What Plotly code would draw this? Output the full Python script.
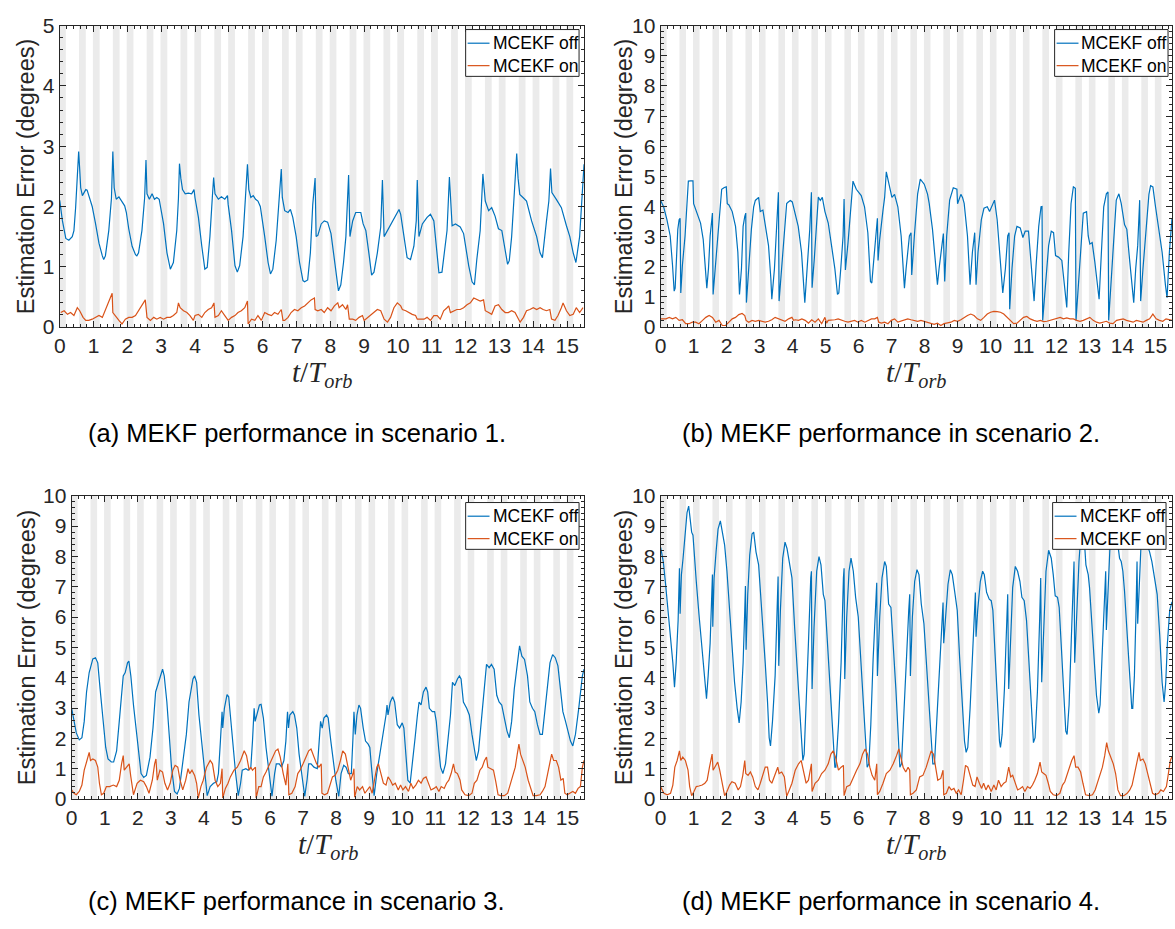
import plotly.graph_objects as go

W, H = 1175, 929
BLUE = '#0072BD'
ORANGE = '#D95319'
INK = '#262626'
BAND = '#ebebeb'

# ---------------- data (t / T_orb, error in degrees) ----------------
a_off = [(0.0, 2.10), (0.08, 1.76), (0.18, 1.47), (0.27, 1.44), (0.37, 1.50), (0.42, 1.60), (0.47, 1.98), (0.53, 2.63), (0.56, 2.91), (0.59, 2.62), (0.62, 2.31), (0.67, 2.18), (0.72, 2.23), (0.77, 2.28), (0.81, 2.27), (0.86, 2.18), (0.91, 2.07), (0.96, 2.00), (1.06, 1.71), (1.16, 1.39), (1.26, 1.18), (1.30, 1.12), (1.35, 1.18), (1.45, 1.60), (1.53, 2.14), (1.57, 2.91), (1.61, 2.31), (1.67, 2.12), (1.75, 2.16), (1.84, 2.09), (1.92, 2.01), (1.97, 1.90), (2.04, 1.63), (2.14, 1.34), (2.24, 1.20), (2.28, 1.18), (2.33, 1.23), (2.43, 1.60), (2.51, 2.14), (2.55, 2.77), (2.58, 2.21), (2.65, 2.12), (2.73, 2.21), (2.80, 2.12), (2.87, 2.15), (2.94, 2.12), (2.97, 2.03), (3.07, 1.71), (3.17, 1.23), (3.27, 0.96), (3.36, 1.07), (3.46, 1.60), (3.51, 2.14), (3.54, 2.71), (3.58, 2.47), (3.63, 2.28), (3.71, 2.21), (3.80, 2.22), (3.90, 2.21), (3.97, 2.28), (4.00, 2.14), (4.10, 1.82), (4.20, 1.34), (4.29, 0.96), (4.36, 0.99), (4.44, 1.50), (4.51, 2.14), (4.55, 2.48), (4.59, 2.21), (4.69, 2.12), (4.78, 2.16), (4.88, 2.12), (4.96, 2.18), (4.98, 2.03), (5.08, 1.60), (5.18, 1.02), (5.25, 0.91), (5.32, 1.02), (5.42, 1.50), (5.49, 2.14), (5.55, 2.70), (5.59, 2.28), (5.65, 2.15), (5.72, 2.18), (5.79, 2.12), (5.86, 2.09), (5.93, 2.00), (6.06, 1.50), (6.16, 1.07), (6.23, 0.88), (6.30, 0.96), (6.40, 1.44), (6.50, 2.14), (6.55, 2.62), (6.58, 2.15), (6.65, 1.93), (6.75, 1.90), (6.82, 1.95), (6.89, 1.82), (6.99, 1.50), (7.09, 1.07), (7.19, 0.77), (7.24, 0.75), (7.33, 0.78), (7.41, 1.23), (7.48, 2.03), (7.55, 2.47), (7.58, 1.50), (7.63, 1.52), (7.73, 1.71), (7.82, 1.76), (7.92, 1.74), (8.02, 1.55), (8.12, 1.07), (8.20, 0.70), (8.24, 0.60), (8.31, 0.70), (8.39, 1.07), (8.46, 1.50), (8.51, 2.03), (8.54, 2.52), (8.58, 1.50), (8.66, 1.76), (8.75, 1.90), (8.90, 1.90), (8.97, 1.71), (9.05, 1.60), (9.15, 1.18), (9.22, 0.86), (9.29, 0.91), (9.39, 1.23), (9.49, 1.66), (9.54, 2.44), (9.59, 1.50), (9.69, 1.60), (9.83, 1.76), (10.03, 1.95), (10.08, 1.87), (10.18, 1.50), (10.27, 1.15), (10.37, 1.12), (10.47, 1.34), (10.54, 1.76), (10.57, 2.44), (10.62, 1.50), (10.72, 1.71), (10.86, 1.82), (10.96, 1.87), (11.06, 1.76), (11.16, 1.18), (11.21, 0.90), (11.30, 0.91), (11.45, 1.60), (11.52, 2.49), (11.60, 1.68), (11.70, 1.71), (11.84, 1.66), (11.94, 1.55), (12.09, 1.02), (12.19, 0.75), (12.26, 0.70), (12.33, 1.12), (12.43, 1.60), (12.51, 2.54), (12.58, 2.09), (12.68, 1.93), (12.77, 1.98), (12.87, 1.84), (12.97, 1.63), (13.07, 1.60), (13.17, 1.28), (13.24, 1.04), (13.29, 1.10), (13.36, 1.50), (13.43, 2.14), (13.51, 2.88), (13.55, 2.47), (13.60, 2.20), (13.71, 2.14), (13.80, 2.09), (13.95, 1.76), (14.10, 1.50), (14.20, 1.23), (14.27, 1.15), (14.39, 1.76), (14.46, 2.09), (14.51, 2.63), (14.55, 2.23), (14.69, 2.11), (14.83, 1.98), (14.98, 1.68), (15.08, 1.50), (15.18, 1.23), (15.26, 1.07), (15.37, 1.50), (15.44, 2.09), (15.50, 2.70)]

a_on = [(0.03, 0.24), (0.13, 0.27), (0.23, 0.21), (0.32, 0.24), (0.42, 0.19), (0.52, 0.32), (0.59, 0.27), (0.69, 0.16), (0.77, 0.11), (0.86, 0.11), (0.96, 0.13), (1.06, 0.16), (1.16, 0.19), (1.26, 0.16), (1.35, 0.29), (1.45, 0.40), (1.55, 0.56), (1.57, 0.24), (1.65, 0.19), (1.75, 0.11), (1.84, 0.05), (1.94, 0.13), (2.04, 0.16), (2.14, 0.16), (2.24, 0.19), (2.33, 0.27), (2.43, 0.37), (2.53, 0.45), (2.58, 0.16), (2.68, 0.11), (2.78, 0.16), (2.87, 0.13), (2.97, 0.16), (3.07, 0.13), (3.17, 0.16), (3.27, 0.16), (3.36, 0.19), (3.46, 0.24), (3.51, 0.40), (3.56, 0.32), (3.66, 0.27), (3.76, 0.24), (3.85, 0.19), (3.95, 0.11), (4.00, 0.19), (4.10, 0.21), (4.20, 0.16), (4.29, 0.24), (4.39, 0.29), (4.49, 0.32), (4.56, 0.40), (4.59, 0.16), (4.69, 0.19), (4.78, 0.27), (4.88, 0.19), (4.98, 0.11), (5.08, 0.16), (5.18, 0.19), (5.27, 0.24), (5.37, 0.27), (5.47, 0.32), (5.55, 0.43), (5.57, 0.05), (5.67, 0.13), (5.77, 0.11), (5.86, 0.19), (5.96, 0.11), (6.06, 0.24), (6.16, 0.21), (6.26, 0.19), (6.35, 0.24), (6.45, 0.21), (6.55, 0.29), (6.60, 0.11), (6.65, 0.11), (6.75, 0.16), (6.84, 0.24), (6.94, 0.29), (7.04, 0.27), (7.14, 0.32), (7.24, 0.35), (7.33, 0.40), (7.43, 0.45), (7.53, 0.48), (7.55, 0.29), (7.63, 0.27), (7.73, 0.29), (7.82, 0.24), (7.92, 0.32), (8.02, 0.27), (8.12, 0.35), (8.22, 0.40), (8.26, 0.32), (8.36, 0.37), (8.46, 0.29), (8.51, 0.37), (8.56, 0.13), (8.66, 0.13), (8.75, 0.11), (8.85, 0.16), (8.95, 0.19), (9.00, 0.11), (9.10, 0.16), (9.20, 0.21), (9.29, 0.24), (9.39, 0.29), (9.49, 0.27), (9.59, 0.13), (9.69, 0.08), (9.78, 0.16), (9.88, 0.32), (9.98, 0.40), (10.08, 0.35), (10.13, 0.29), (10.23, 0.27), (10.32, 0.24), (10.42, 0.21), (10.52, 0.19), (10.57, 0.13), (10.67, 0.13), (10.77, 0.13), (10.86, 0.16), (10.96, 0.11), (11.06, 0.19), (11.16, 0.19), (11.25, 0.13), (11.35, 0.27), (11.45, 0.32), (11.50, 0.35), (11.55, 0.24), (11.65, 0.27), (11.74, 0.29), (11.84, 0.29), (11.94, 0.32), (12.04, 0.37), (12.14, 0.40), (12.24, 0.48), (12.33, 0.45), (12.43, 0.43), (12.53, 0.45), (12.58, 0.27), (12.68, 0.24), (12.77, 0.21), (12.87, 0.35), (12.97, 0.37), (13.07, 0.29), (13.17, 0.24), (13.26, 0.24), (13.36, 0.27), (13.46, 0.24), (13.56, 0.13), (13.61, 0.08), (13.71, 0.16), (13.80, 0.27), (13.90, 0.29), (14.00, 0.32), (14.10, 0.29), (14.20, 0.32), (14.29, 0.29), (14.39, 0.27), (14.49, 0.29), (14.54, 0.13), (14.64, 0.11), (14.73, 0.19), (14.83, 0.32), (14.88, 0.40), (14.98, 0.27), (15.08, 0.19), (15.18, 0.21), (15.27, 0.32), (15.37, 0.24), (15.47, 0.32)]

b_off = [(0.0, 4.20), (0.02, 4.15), (0.09, 3.99), (0.19, 3.56), (0.29, 3.02), (0.36, 2.05), (0.41, 1.19), (0.44, 1.29), (0.48, 2.48), (0.52, 3.24), (0.56, 3.56), (0.59, 3.61), (0.61, 1.13), (0.66, 2.05), (0.74, 3.02), (0.79, 3.99), (0.84, 4.84), (0.91, 4.85), (0.98, 4.85), (1.00, 4.09), (1.11, 3.78), (1.21, 3.45), (1.29, 2.91), (1.36, 1.94), (1.40, 1.29), (1.45, 1.94), (1.50, 3.02), (1.55, 3.56), (1.57, 3.78), (1.59, 1.08), (1.65, 1.94), (1.72, 3.02), (1.79, 3.88), (1.85, 4.57), (1.93, 4.63), (1.99, 4.65), (2.02, 4.09), (2.07, 4.05), (2.17, 3.83), (2.27, 3.34), (2.34, 2.48), (2.39, 1.08), (2.45, 1.94), (2.50, 3.34), (2.55, 3.67), (2.58, 3.78), (2.60, 0.81), (2.67, 1.94), (2.75, 3.24), (2.82, 3.99), (2.87, 4.20), (2.97, 4.30), (2.99, 3.96), (3.02, 3.83), (3.10, 3.88), (3.17, 3.45), (3.27, 2.70), (3.34, 1.62), (3.37, 0.92), (3.45, 1.94), (3.52, 3.24), (3.57, 4.47), (3.59, 0.86), (3.67, 1.94), (3.75, 3.02), (3.82, 4.10), (3.86, 4.14), (3.93, 4.20), (3.99, 4.15), (4.07, 3.78), (4.17, 3.34), (4.27, 2.48), (4.34, 1.40), (4.37, 0.81), (4.44, 1.94), (4.52, 3.24), (4.57, 4.47), (4.59, 1.30), (4.66, 2.30), (4.73, 3.70), (4.78, 4.31), (4.84, 4.20), (4.90, 4.30), (4.98, 3.83), (5.08, 3.45), (5.18, 2.70), (5.28, 1.94), (5.36, 1.08), (5.40, 1.13), (5.46, 1.94), (5.53, 3.02), (5.56, 4.25), (5.60, 1.89), (5.68, 2.80), (5.78, 3.99), (5.83, 4.84), (5.93, 4.57), (6.03, 4.41), (6.08, 4.36), (6.18, 3.99), (6.28, 3.13), (6.36, 1.51), (6.40, 1.46), (6.48, 2.48), (6.57, 3.61), (6.59, 2.21), (6.64, 2.91), (6.74, 3.88), (6.79, 4.31), (6.84, 5.15), (6.94, 4.62), (7.01, 4.30), (7.09, 4.40), (7.19, 3.99), (7.29, 3.02), (7.39, 1.29), (7.44, 1.94), (7.54, 3.02), (7.59, 3.13), (7.61, 1.73), (7.69, 3.02), (7.79, 4.42), (7.87, 4.91), (7.99, 4.74), (8.09, 4.41), (8.14, 4.10), (8.24, 3.24), (8.34, 2.05), (8.39, 1.40), (8.44, 1.94), (8.54, 2.91), (8.57, 3.10), (8.61, 1.51), (8.67, 3.02), (8.76, 4.21), (8.87, 4.62), (8.98, 4.57), (9.00, 4.09), (9.10, 4.40), (9.15, 4.30), (9.20, 4.10), (9.30, 3.02), (9.38, 1.40), (9.45, 2.48), (9.52, 3.13), (9.56, 1.40), (9.62, 2.48), (9.72, 3.56), (9.80, 3.94), (9.90, 3.99), (9.97, 3.83), (10.05, 4.05), (10.12, 4.21), (10.20, 3.56), (10.30, 2.27), (10.37, 1.13), (10.45, 1.94), (10.52, 3.02), (10.56, 3.13), (10.58, 0.59), (10.65, 1.94), (10.73, 3.02), (10.80, 3.34), (10.90, 3.29), (10.98, 2.97), (11.05, 3.18), (11.15, 3.18), (11.20, 2.48), (11.27, 1.40), (11.32, 0.86), (11.38, 2.05), (11.46, 3.34), (11.53, 3.99), (11.56, 4.00), (11.58, 0.22), (11.66, 1.40), (11.76, 2.70), (11.84, 3.18), (11.91, 3.13), (11.97, 2.37), (12.06, 2.32), (12.16, 2.21), (12.21, 1.73), (12.28, 1.08), (12.31, 0.65), (12.37, 2.48), (12.44, 4.10), (12.51, 4.65), (12.57, 4.60), (12.59, 0.22), (12.66, 1.40), (12.74, 2.70), (12.81, 3.78), (12.91, 3.83), (12.96, 3.02), (13.01, 2.75), (13.08, 2.80), (13.16, 2.16), (13.24, 1.40), (13.29, 0.92), (13.36, 2.48), (13.43, 3.99), (13.51, 4.42), (13.56, 4.48), (13.58, 0.22), (13.66, 1.62), (13.74, 3.02), (13.81, 4.21), (13.89, 4.42), (13.96, 4.10), (14.06, 3.40), (14.13, 3.24), (14.22, 2.16), (14.30, 1.08), (14.34, 0.81), (14.40, 1.94), (14.46, 2.70), (14.52, 4.21), (14.55, 0.86), (14.62, 1.94), (14.72, 3.34), (14.80, 4.40), (14.85, 4.69), (14.92, 4.65), (15.00, 3.99), (15.10, 3.24), (15.20, 2.48), (15.30, 1.40), (15.35, 0.97), (15.42, 2.48), (15.50, 3.61)]

b_on = [(0.0, 0.27), (0.16, 0.27), (0.26, 0.32), (0.36, 0.27), (0.46, 0.32), (0.56, 0.22), (0.66, 0.24), (0.76, 0.11), (0.86, 0.11), (0.96, 0.16), (1.06, 0.16), (1.16, 0.11), (1.27, 0.22), (1.37, 0.32), (1.47, 0.38), (1.57, 0.32), (1.67, 0.16), (1.77, 0.22), (1.87, 0.05), (1.97, 0.05), (2.07, 0.16), (2.17, 0.27), (2.27, 0.32), (2.37, 0.41), (2.47, 0.45), (2.55, 0.38), (2.59, 0.22), (2.67, 0.16), (2.77, 0.22), (2.87, 0.19), (2.97, 0.22), (3.07, 0.19), (3.17, 0.16), (3.27, 0.19), (3.37, 0.24), (3.47, 0.32), (3.57, 0.27), (3.67, 0.24), (3.77, 0.19), (3.88, 0.27), (3.98, 0.32), (4.03, 0.22), (4.08, 0.24), (4.18, 0.22), (4.28, 0.27), (4.38, 0.22), (4.48, 0.13), (4.58, 0.24), (4.68, 0.16), (4.78, 0.27), (4.88, 0.11), (4.98, 0.32), (5.03, 0.13), (5.08, 0.22), (5.18, 0.22), (5.28, 0.24), (5.38, 0.27), (5.48, 0.22), (5.58, 0.19), (5.68, 0.16), (5.78, 0.19), (5.88, 0.22), (5.98, 0.16), (6.08, 0.22), (6.19, 0.16), (6.29, 0.22), (6.39, 0.27), (6.49, 0.27), (6.57, 0.32), (6.61, 0.16), (6.69, 0.13), (6.79, 0.16), (6.89, 0.11), (6.99, 0.22), (7.09, 0.27), (7.19, 0.16), (7.29, 0.19), (7.39, 0.22), (7.49, 0.27), (7.59, 0.24), (7.69, 0.22), (7.79, 0.19), (7.89, 0.22), (7.99, 0.19), (8.09, 0.16), (8.19, 0.11), (8.29, 0.09), (8.39, 0.13), (8.49, 0.05), (8.59, 0.11), (8.70, 0.13), (8.80, 0.16), (8.90, 0.22), (9.00, 0.19), (9.10, 0.24), (9.20, 0.32), (9.30, 0.38), (9.40, 0.43), (9.50, 0.38), (9.60, 0.27), (9.70, 0.22), (9.80, 0.32), (9.90, 0.43), (10.00, 0.49), (10.10, 0.52), (10.20, 0.51), (10.30, 0.49), (10.40, 0.43), (10.50, 0.32), (10.60, 0.19), (10.70, 0.11), (10.80, 0.13), (10.90, 0.22), (11.00, 0.32), (11.10, 0.35), (11.20, 0.27), (11.31, 0.22), (11.41, 0.19), (11.51, 0.22), (11.61, 0.18), (11.71, 0.19), (11.81, 0.22), (11.91, 0.24), (12.01, 0.27), (12.11, 0.32), (12.21, 0.27), (12.31, 0.30), (12.41, 0.27), (12.51, 0.27), (12.61, 0.22), (12.71, 0.19), (12.81, 0.22), (12.91, 0.27), (13.01, 0.32), (13.11, 0.22), (13.21, 0.16), (13.31, 0.13), (13.41, 0.16), (13.51, 0.19), (13.61, 0.13), (13.71, 0.11), (13.82, 0.22), (13.92, 0.24), (14.02, 0.27), (14.12, 0.22), (14.22, 0.19), (14.32, 0.16), (14.42, 0.22), (14.52, 0.19), (14.62, 0.16), (14.72, 0.22), (14.82, 0.27), (14.92, 0.43), (15.02, 0.27), (15.12, 0.22), (15.22, 0.19), (15.32, 0.27), (15.42, 0.24), (15.50, 0.22)]

c_off = [(0.00, 2.99), (0.07, 2.56), (0.14, 2.18), (0.23, 1.95), (0.31, 2.02), (0.38, 2.56), (0.45, 3.53), (0.53, 4.17), (0.64, 4.62), (0.72, 4.66), (0.79, 4.49), (0.86, 3.63), (0.95, 2.67), (1.03, 1.70), (1.10, 1.32), (1.20, 1.22), (1.27, 1.22), (1.36, 1.59), (1.44, 2.56), (1.51, 3.63), (1.56, 4.06), (1.62, 4.17), (1.69, 4.49), (1.73, 4.55), (1.79, 4.06), (1.87, 3.10), (1.95, 2.34), (2.03, 1.38), (2.10, 0.84), (2.18, 0.71), (2.26, 0.78), (2.37, 1.38), (2.46, 2.34), (2.54, 3.53), (2.62, 3.85), (2.70, 4.12), (2.75, 4.28), (2.80, 4.06), (2.88, 3.20), (2.95, 2.13), (3.02, 1.05), (3.11, 0.25), (3.19, 0.17), (3.26, 0.35), (3.36, 1.16), (3.47, 2.13), (3.55, 3.20), (3.62, 3.63), (3.67, 3.96), (3.72, 4.06), (3.78, 3.85), (3.85, 2.77), (3.93, 1.91), (4.01, 0.84), (4.10, 0.11), (4.19, 0.41), (4.29, 0.52), (4.39, 0.57), (4.44, 0.84), (4.50, 1.91), (4.55, 2.88), (4.57, 2.34), (4.62, 2.99), (4.70, 3.44), (4.75, 3.37), (4.80, 2.77), (4.88, 1.70), (4.96, 0.84), (5.04, 0.11), (5.11, 0.52), (5.16, 0.95), (5.27, 1.00), (5.34, 0.95), (5.42, 1.05), (5.47, 1.91), (5.52, 2.99), (5.55, 2.56), (5.60, 2.77), (5.68, 3.10), (5.73, 3.12), (5.80, 2.67), (5.88, 1.70), (5.99, 0.62), (6.06, 0.09), (6.14, 0.84), (6.19, 1.16), (6.28, 1.16), (6.35, 1.05), (6.42, 1.27), (6.48, 1.91), (6.53, 2.88), (6.56, 2.34), (6.60, 2.77), (6.69, 2.88), (6.74, 2.77), (6.81, 2.34), (6.88, 1.48), (6.96, 0.84), (7.05, 0.09), (7.12, 0.62), (7.17, 1.16), (7.24, 1.16), (7.33, 1.05), (7.43, 1.00), (7.48, 1.70), (7.53, 2.56), (7.58, 2.34), (7.63, 2.67), (7.71, 2.77), (7.76, 2.67), (7.84, 1.91), (7.92, 1.27), (7.99, 0.62), (8.08, 0.09), (8.15, 0.84), (8.23, 1.11), (8.30, 1.05), (8.37, 0.84), (8.46, 0.84), (8.51, 2.02), (8.54, 2.88), (8.58, 2.13), (8.63, 2.77), (8.69, 3.10), (8.74, 2.99), (8.82, 2.34), (8.89, 1.91), (8.97, 1.81), (9.02, 1.70), (9.07, 1.05), (9.15, 0.11), (9.23, 0.84), (9.33, 1.48), (9.43, 2.13), (9.51, 2.77), (9.54, 3.10), (9.57, 2.77), (9.64, 3.20), (9.71, 3.37), (9.77, 3.20), (9.85, 2.45), (9.92, 2.34), (10.00, 2.51), (10.05, 2.34), (10.10, 1.48), (10.17, 0.62), (10.24, 0.52), (10.31, 1.16), (10.39, 2.02), (10.46, 2.77), (10.51, 3.20), (10.57, 3.10), (10.64, 3.53), (10.72, 3.69), (10.77, 3.53), (10.82, 2.99), (10.91, 2.88), (10.98, 2.88), (11.03, 2.56), (11.10, 1.70), (11.16, 1.05), (11.23, 0.84), (11.31, 1.16), (11.39, 2.02), (11.46, 2.77), (11.52, 3.85), (11.59, 3.74), (11.67, 3.96), (11.73, 4.06), (11.78, 3.96), (11.85, 3.20), (11.95, 2.99), (12.03, 2.77), (12.11, 2.13), (12.18, 1.59), (12.24, 1.27), (12.31, 1.59), (12.39, 2.56), (12.47, 3.53), (12.55, 4.44), (12.63, 4.33), (12.70, 4.44), (12.78, 4.28), (12.86, 3.42), (12.93, 3.20), (13.01, 3.10), (13.09, 2.67), (13.17, 2.24), (13.24, 2.02), (13.31, 2.56), (13.39, 3.63), (13.48, 4.49), (13.55, 5.05), (13.62, 4.71), (13.70, 4.60), (13.79, 4.06), (13.86, 3.20), (13.94, 2.99), (14.01, 2.88), (14.09, 2.45), (14.17, 2.13), (14.24, 2.13), (14.32, 2.99), (14.40, 3.85), (14.47, 4.49), (14.55, 4.76), (14.63, 4.66), (14.71, 4.39), (14.78, 3.63), (14.86, 2.88), (14.94, 2.56), (15.01, 2.24), (15.09, 1.91), (15.16, 1.75), (15.24, 2.13), (15.34, 2.99), (15.45, 4.06), (15.50, 4.28)]

c_on = [(0.00, 0.30), (0.07, 0.19), (0.14, 0.14), (0.23, 0.25), (0.31, 0.46), (0.38, 0.95), (0.45, 1.22), (0.53, 1.54), (0.57, 1.27), (0.64, 1.32), (0.72, 1.27), (0.79, 1.05), (0.84, 0.52), (0.90, 0.14), (0.97, 0.19), (1.05, 0.41), (1.15, 0.41), (1.26, 0.46), (1.36, 0.41), (1.44, 0.62), (1.51, 1.16), (1.56, 1.43), (1.59, 0.95), (1.67, 1.05), (1.74, 1.16), (1.79, 0.73), (1.87, 0.14), (1.98, 0.52), (2.08, 0.62), (2.18, 0.57), (2.26, 0.41), (2.34, 0.19), (2.44, 0.62), (2.51, 1.16), (2.55, 1.32), (2.59, 0.62), (2.67, 0.95), (2.75, 0.89), (2.82, 0.52), (2.90, 0.30), (2.98, 0.52), (3.06, 0.95), (3.13, 1.11), (3.21, 1.05), (3.28, 0.62), (3.36, 0.30), (3.45, 0.62), (3.52, 1.00), (3.57, 0.84), (3.64, 0.95), (3.72, 0.78), (3.78, 0.52), (3.83, 0.03), (3.91, 0.41), (3.98, 0.62), (4.08, 1.05), (4.19, 1.27), (4.26, 1.16), (4.34, 0.62), (4.42, 0.41), (4.50, 0.52), (4.55, 1.00), (4.57, 0.03), (4.65, 0.35), (4.73, 0.52), (4.80, 0.73), (4.91, 0.95), (5.01, 1.05), (5.11, 1.27), (5.22, 1.59), (5.29, 1.43), (5.37, 0.95), (5.42, 1.05), (5.47, 0.95), (5.56, 1.05), (5.58, 0.03), (5.66, 0.41), (5.73, 0.41), (5.80, 0.73), (5.88, 0.89), (5.99, 1.16), (6.09, 1.38), (6.17, 1.59), (6.24, 1.65), (6.31, 1.38), (6.40, 0.84), (6.48, 0.46), (6.54, 1.16), (6.57, 0.14), (6.66, 0.19), (6.76, 0.41), (6.84, 0.84), (6.91, 0.95), (7.00, 1.16), (7.09, 1.38), (7.17, 1.59), (7.24, 1.65), (7.33, 1.38), (7.41, 1.16), (7.48, 1.05), (7.55, 1.16), (7.57, 0.19), (7.65, 0.14), (7.74, 0.19), (7.82, 0.52), (7.89, 0.73), (7.97, 0.78), (8.05, 0.95), (8.13, 1.27), (8.20, 1.59), (8.28, 1.48), (8.35, 1.05), (8.44, 0.62), (8.51, 0.84), (8.54, 1.00), (8.56, 0.06), (8.64, 0.41), (8.71, 0.30), (8.80, 0.41), (8.87, 0.19), (8.95, 0.30), (9.02, 0.41), (9.09, 0.19), (9.16, 0.62), (9.23, 1.05), (9.28, 1.16), (9.35, 0.84), (9.43, 0.52), (9.51, 0.46), (9.57, 0.73), (9.64, 0.62), (9.71, 0.46), (9.79, 0.52), (9.88, 0.30), (9.95, 0.46), (10.02, 0.30), (10.10, 0.41), (10.19, 0.25), (10.26, 0.52), (10.33, 0.35), (10.41, 0.46), (10.49, 0.62), (10.57, 0.52), (10.64, 0.68), (10.72, 0.73), (10.80, 0.52), (10.87, 0.30), (10.96, 0.35), (11.03, 0.41), (11.11, 0.25), (11.18, 0.41), (11.27, 0.35), (11.34, 0.52), (11.41, 0.62), (11.48, 0.84), (11.55, 1.16), (11.60, 0.89), (11.67, 0.84), (11.75, 0.62), (11.80, 0.30), (11.90, 0.14), (12.01, 0.11), (12.11, 0.19), (12.18, 0.52), (12.26, 0.62), (12.35, 0.95), (12.42, 1.05), (12.49, 1.27), (12.55, 1.38), (12.59, 1.05), (12.67, 1.00), (12.76, 0.95), (12.83, 0.57), (12.90, 0.14), (12.98, 0.11), (13.09, 0.11), (13.19, 0.19), (13.27, 0.52), (13.34, 0.73), (13.42, 1.05), (13.48, 1.48), (13.53, 1.81), (13.58, 1.48), (13.65, 1.27), (13.72, 1.05), (13.81, 0.62), (13.89, 0.30), (13.96, 0.11), (14.06, 0.11), (14.17, 0.14), (14.24, 0.25), (14.32, 0.41), (14.40, 0.84), (14.47, 1.16), (14.52, 1.48), (14.58, 1.27), (14.66, 1.27), (14.73, 1.05), (14.80, 0.62), (14.87, 0.68), (14.92, 0.19), (14.99, 0.14), (15.09, 0.19), (15.16, 0.25), (15.24, 0.19), (15.32, 0.35), (15.39, 0.41), (15.45, 1.05), (15.50, 1.27)]

d_off = [(0.00, 8.30), (0.02, 8.20), (0.08, 7.83), (0.15, 7.08), (0.23, 6.22), (0.30, 5.46), (0.37, 4.49), (0.42, 3.69), (0.47, 4.49), (0.53, 5.89), (0.57, 7.61), (0.59, 6.11), (0.63, 7.40), (0.68, 7.94), (0.73, 8.69), (0.80, 9.44), (0.85, 9.66), (0.89, 9.33), (0.94, 8.80), (0.98, 8.70), (1.02, 7.94), (1.08, 7.18), (1.16, 6.11), (1.26, 4.82), (1.34, 3.96), (1.39, 3.31), (1.44, 4.06), (1.50, 5.14), (1.54, 6.43), (1.57, 7.40), (1.58, 5.68), (1.62, 7.29), (1.68, 8.15), (1.74, 8.90), (1.81, 9.17), (1.86, 8.90), (1.94, 8.37), (2.01, 7.51), (2.08, 6.43), (2.16, 5.14), (2.24, 3.85), (2.32, 2.99), (2.38, 2.51), (2.44, 3.20), (2.50, 4.49), (2.55, 6.22), (2.57, 7.02), (2.59, 4.92), (2.64, 6.75), (2.70, 8.04), (2.77, 8.74), (2.82, 8.80), (2.89, 8.15), (2.97, 7.72), (3.02, 6.97), (3.10, 5.78), (3.17, 4.49), (3.24, 3.20), (3.29, 2.02), (3.33, 1.75), (3.39, 2.56), (3.47, 4.06), (3.54, 6.22), (3.56, 7.34), (3.58, 4.39), (3.63, 6.22), (3.70, 7.94), (3.77, 8.47), (3.83, 8.26), (3.90, 7.83), (3.98, 7.29), (4.06, 5.68), (4.13, 4.39), (4.20, 3.10), (4.26, 2.02), (4.31, 1.27), (4.35, 1.48), (4.41, 2.99), (4.48, 5.14), (4.55, 7.29), (4.57, 7.51), (4.59, 3.63), (4.65, 5.68), (4.73, 7.51), (4.80, 7.99), (4.86, 7.72), (4.93, 6.75), (4.98, 6.54), (5.05, 5.35), (5.13, 3.85), (5.21, 2.34), (5.28, 1.05), (5.31, 1.05), (5.39, 2.45), (5.47, 4.49), (5.54, 7.29), (5.56, 7.61), (5.58, 3.96), (5.64, 6.00), (5.71, 7.51), (5.77, 7.94), (5.84, 7.51), (5.91, 6.65), (5.99, 6.00), (6.07, 4.49), (6.14, 2.99), (6.21, 1.70), (6.26, 1.05), (6.31, 1.16), (6.37, 2.45), (6.44, 4.60), (6.51, 6.00), (6.55, 7.13), (6.57, 4.06), (6.64, 6.00), (6.71, 7.29), (6.79, 7.83), (6.84, 7.67), (6.91, 6.43), (6.98, 6.32), (7.05, 5.14), (7.13, 3.63), (7.20, 2.13), (7.25, 1.05), (7.30, 1.16), (7.37, 2.56), (7.45, 4.60), (7.52, 6.22), (7.55, 6.75), (7.57, 4.06), (7.63, 6.00), (7.70, 7.18), (7.77, 7.56), (7.83, 7.40), (7.90, 6.43), (7.98, 5.78), (8.05, 4.49), (8.13, 2.99), (8.20, 1.91), (8.25, 1.16), (8.30, 1.16), (8.37, 2.56), (8.45, 4.49), (8.53, 6.00), (8.56, 6.48), (8.58, 5.14), (8.63, 6.00), (8.71, 7.08), (8.78, 7.56), (8.84, 7.40), (8.91, 6.86), (8.99, 6.22), (9.06, 4.71), (9.14, 3.20), (9.21, 1.91), (9.26, 1.54), (9.31, 1.70), (9.38, 2.99), (9.46, 4.92), (9.51, 6.00), (9.54, 6.81), (9.56, 5.35), (9.61, 6.22), (9.69, 7.18), (9.76, 7.51), (9.81, 7.40), (9.88, 6.81), (9.96, 6.59), (10.02, 6.54), (10.07, 6.22), (10.14, 4.60), (10.22, 2.99), (10.27, 1.91), (10.30, 1.70), (10.35, 2.13), (10.42, 3.63), (10.49, 5.68), (10.52, 6.75), (10.55, 3.63), (10.61, 5.68), (10.67, 6.97), (10.75, 7.67), (10.82, 7.51), (10.89, 7.18), (10.95, 6.65), (11.02, 6.54), (11.09, 5.89), (11.17, 4.39), (11.24, 2.77), (11.30, 1.86), (11.35, 2.02), (11.42, 3.53), (11.49, 6.00), (11.52, 7.29), (11.55, 3.85), (11.61, 5.68), (11.68, 7.51), (11.76, 8.20), (11.84, 7.94), (11.90, 7.40), (11.96, 6.70), (12.03, 6.65), (12.08, 6.32), (12.15, 4.92), (12.23, 3.20), (12.28, 2.24), (12.32, 2.13), (12.38, 3.10), (12.45, 5.35), (12.50, 7.29), (12.53, 7.83), (12.55, 4.49), (12.61, 6.22), (12.68, 7.83), (12.75, 8.90), (12.82, 8.90), (12.89, 7.72), (12.96, 7.40), (13.00, 6.97), (13.06, 6.00), (13.14, 4.60), (13.21, 3.42), (13.28, 2.83), (13.32, 3.10), (13.38, 4.71), (13.46, 6.75), (13.49, 7.51), (13.51, 5.57), (13.56, 7.08), (13.63, 8.58), (13.69, 9.23), (13.76, 9.01), (13.86, 8.37), (13.91, 7.94), (13.96, 7.83), (14.01, 7.51), (14.06, 6.86), (14.13, 5.57), (14.21, 4.06), (14.28, 2.99), (14.31, 2.99), (14.36, 4.06), (14.41, 6.22), (14.44, 7.83), (14.46, 5.78), (14.50, 7.08), (14.56, 8.37), (14.61, 8.90), (14.67, 8.80), (14.75, 8.37), (14.82, 8.15), (14.89, 7.83), (14.97, 7.29), (15.05, 6.75), (15.13, 5.35), (15.20, 3.85), (15.26, 3.20), (15.31, 3.85), (15.36, 5.14), (15.43, 6.22), (15.50, 6.50)]

d_on = [(0.00, 0.40), (0.02, 0.35), (0.10, 0.19), (0.20, 0.14), (0.30, 0.19), (0.37, 0.46), (0.43, 1.05), (0.50, 1.27), (0.57, 1.59), (0.61, 1.27), (0.67, 1.38), (0.75, 1.27), (0.83, 0.95), (0.88, 0.41), (0.94, 0.11), (1.01, 0.25), (1.08, 0.41), (1.16, 0.43), (1.26, 0.46), (1.34, 0.52), (1.41, 0.62), (1.48, 1.05), (1.56, 1.48), (1.59, 0.95), (1.66, 1.11), (1.73, 1.22), (1.79, 0.95), (1.86, 0.52), (1.94, 0.11), (2.01, 0.25), (2.09, 0.46), (2.16, 0.57), (2.26, 0.52), (2.35, 0.30), (2.42, 0.41), (2.49, 0.78), (2.55, 1.27), (2.58, 0.84), (2.65, 0.78), (2.72, 0.89), (2.79, 0.73), (2.87, 0.41), (2.95, 0.30), (3.02, 0.52), (3.10, 0.84), (3.17, 1.05), (3.24, 1.05), (3.30, 0.62), (3.37, 0.52), (3.44, 0.73), (3.51, 0.95), (3.55, 1.05), (3.59, 0.84), (3.67, 0.89), (3.75, 0.73), (3.82, 0.09), (3.90, 0.30), (3.98, 0.52), (4.08, 0.95), (4.18, 1.16), (4.26, 1.27), (4.33, 0.95), (4.41, 0.52), (4.48, 0.62), (4.55, 1.05), (4.57, 1.16), (4.59, 0.25), (4.68, 0.52), (4.78, 0.62), (4.88, 0.84), (4.98, 0.95), (5.08, 1.16), (5.16, 1.48), (5.23, 1.59), (5.30, 1.38), (5.39, 0.95), (5.47, 1.05), (5.54, 1.11), (5.56, 0.11), (5.64, 0.41), (5.74, 0.46), (5.84, 0.73), (5.94, 0.95), (6.04, 1.16), (6.12, 1.48), (6.20, 1.65), (6.27, 1.48), (6.34, 1.05), (6.41, 0.78), (6.49, 0.62), (6.55, 1.16), (6.57, 0.14), (6.64, 0.25), (6.74, 0.52), (6.84, 0.84), (6.95, 0.95), (7.05, 1.16), (7.15, 1.43), (7.22, 1.65), (7.28, 1.38), (7.35, 1.05), (7.43, 0.89), (7.50, 1.05), (7.55, 0.95), (7.57, 0.14), (7.65, 0.19), (7.75, 0.30), (7.85, 0.73), (7.95, 0.78), (8.05, 1.05), (8.13, 1.32), (8.20, 1.59), (8.27, 1.48), (8.33, 1.05), (8.40, 0.62), (8.49, 0.68), (8.56, 0.95), (8.58, 0.14), (8.66, 0.19), (8.74, 0.41), (8.81, 0.30), (8.89, 0.35), (8.96, 0.19), (9.03, 0.30), (9.11, 0.14), (9.18, 0.62), (9.24, 1.11), (9.31, 1.05), (9.38, 0.73), (9.46, 0.46), (9.53, 0.41), (9.59, 0.73), (9.66, 0.52), (9.73, 0.35), (9.79, 0.52), (9.86, 0.30), (9.93, 0.46), (10.02, 0.25), (10.10, 0.46), (10.17, 0.30), (10.24, 0.62), (10.32, 0.41), (10.40, 0.52), (10.47, 0.57), (10.55, 1.05), (10.61, 0.73), (10.67, 0.78), (10.75, 0.52), (10.82, 0.30), (10.90, 0.35), (10.97, 0.41), (11.04, 0.25), (11.12, 0.41), (11.20, 0.35), (11.27, 0.46), (11.34, 0.62), (11.42, 0.84), (11.50, 1.22), (11.55, 0.89), (11.61, 0.84), (11.68, 0.78), (11.75, 0.52), (11.81, 0.25), (11.90, 0.14), (12.00, 0.11), (12.10, 0.19), (12.18, 0.46), (12.25, 0.57), (12.33, 0.84), (12.40, 1.05), (12.46, 1.27), (12.53, 1.43), (12.58, 1.05), (12.65, 1.05), (12.73, 0.89), (12.80, 0.52), (12.88, 0.14), (12.99, 0.11), (13.09, 0.14), (13.17, 0.30), (13.24, 0.52), (13.32, 0.78), (13.39, 1.05), (13.46, 1.43), (13.52, 1.86), (13.57, 1.59), (13.64, 1.38), (13.72, 1.16), (13.79, 0.84), (13.86, 0.30), (13.94, 0.11), (14.04, 0.11), (14.14, 0.19), (14.22, 0.30), (14.29, 0.46), (14.36, 0.84), (14.44, 1.16), (14.50, 1.54), (14.54, 1.27), (14.62, 1.32), (14.69, 1.16), (14.76, 0.84), (14.82, 0.62), (14.87, 0.41), (14.91, 0.19), (14.99, 0.14), (15.09, 0.19), (15.16, 0.30), (15.24, 0.25), (15.33, 0.41), (15.39, 0.84), (15.45, 1.27), (15.50, 1.40)]

# shaded (eclipse) intervals: start of each band, in orbits
band_starts = [-0.02, 0.57, 0.98, 1.57, 1.98, 2.57, 2.98, 3.57, 3.98, 4.57, 4.98, 5.57,
               5.98, 6.57, 6.98, 7.57, 7.98, 8.57, 8.98, 9.57, 9.98, 10.57, 10.98, 11.57,
               11.98, 12.57, 12.98, 13.57, 13.98, 14.57, 14.98]
band_width = 0.2

x_tickvals = list(range(16))
series_names = ['MCEKF off', 'MCEKF on']
captions = ['(a) MEKF performance in scenario 1.', '(b) MEKF performance in scenario 2.',
            '(c) MEKF performance in scenario 3.', '(d) MEKF performance in scenario 4.']
y_max = [5, 10, 10, 10]
x_max = 15.5

# ---------------- layout geometry (pixels) ----------------
panels = [
    dict(data=(a_off, a_on), px=(54, 581), py=(14, 323), leg=(462, 18), ytx=20, cap=(292, 432)),
    dict(data=(b_off, b_on), px=(658, 1172), py=(14, 323), leg=(1054, 18), ytx=622, cap=(890, 432)),
    dict(data=(c_off, c_on), px=(66, 581), py=(496, 807), leg=(462, 503), ytx=21, cap=(292, 912)),
    dict(data=(d_off, d_on), px=(658, 1172), py=(496, 807), leg=(1052, 503), ytx=622, cap=(890, 912)),
]
LEG_W, LEG_H = 114, 48

FONT = 'Liberation Sans'


def fx(p):
    return p / W


def fy(p):
    return 1 - p / H


fig = go.Figure()
layout = dict(width=W, height=H, margin=dict(l=0, r=0, t=0, b=0), autosize=False,
              paper_bgcolor='white', plot_bgcolor='white', showlegend=False,
              font=dict(family=FONT, color=INK))
shapes = []
annotations = []

for i, p in enumerate(panels):
    k = '' if i == 0 else str(i + 1)
    xa, ya = 'x' + k, 'y' + k
    axis_common = dict(showline=True, linecolor=INK, linewidth=1, mirror='ticks',
                       ticks='inside', ticklen=6, tickwidth=1, tickcolor=INK,
                       showgrid=False, zeroline=False,
                       tickfont=dict(family=FONT, size=21, color=INK),
                       minor=dict(ticks='inside', ticklen=3, tickcolor=INK, dtick=0.2, showgrid=False))
    layout['xaxis' + k] = dict(axis_common, domain=[fx(p['px'][0]), fx(p['px'][1])], anchor=ya,
                               range=[0, x_max], tickvals=x_tickvals, ticktext=[str(v) for v in x_tickvals])
    layout['yaxis' + k] = dict(axis_common, domain=[fy(p['py'][1]), fy(p['py'][0])], anchor=xa,
                               range=[0, y_max[i]], dtick=1, tick0=0)
    colors = [BLUE, ORANGE]
    for name, series, col in zip(series_names, p['data'], colors):
        fig.add_trace(go.Scatter(x=[q[0] for q in series], y=[q[1] for q in series],
                                 mode='lines', name=name, line=dict(color=col, width=1.2),
                                 xaxis=xa, yaxis=ya))
    for s in band_starts:
        shapes.append(dict(type='rect', xref=xa, yref=ya + ' domain', x0=max(s, 0), x1=min(s + band_width, x_max),
                           y0=0, y1=1, fillcolor=BAND, line=dict(width=0), layer='below'))
    # legend box (MATLAB style, drawn on top of the data)
    lx, ly = p['leg']
    shapes.append(dict(type='rect', xref='paper', yref='paper', x0=fx(lx), x1=fx(lx + LEG_W),
                       y0=fy(ly + LEG_H), y1=fy(ly), fillcolor='white',
                       line=dict(color=INK, width=1), layer='above'))
    for j, (name, col) in enumerate(zip(series_names, colors)):
        yy = ly + 14 + j * 23
        shapes.append(dict(type='line', xref='paper', yref='paper', x0=fx(lx + 2), x1=fx(lx + 24),
                           y0=fy(yy), y1=fy(yy), line=dict(color=col, width=1.2), layer='above'))
        annotations.append(dict(text=name, xref='paper', yref='paper', x=fx(lx + 25), y=fy(yy),
                                xanchor='left', yanchor='middle', showarrow=False,
                                font=dict(family=FONT, size=17.5, color='black')))
    # y-axis title
    annotations.append(dict(text='Estimation Error (degrees)', xref='paper', yref='paper',
                            x=fx(p['ytx']), y=fy((p['py'][0] + p['py'][1]) / 2), textangle=-90,
                            showarrow=False, font=dict(family=FONT, size=23.5, color=INK),
                            xanchor='center', yanchor='middle'))
    # x-axis title
    annotations.append(dict(text='<i>t</i>/<i>T</i><sub><i>orb</i></sub>', xref='paper', yref='paper',
                            x=fx((p['px'][0] + p['px'][1]) / 2), y=fy(p['py'][1] + 48),
                            showarrow=False, font=dict(family='Liberation Serif', size=29, color=INK),
                            xanchor='center', yanchor='middle'))
    # caption
    annotations.append(dict(text=captions[i], xref='paper', yref='paper',
                            x=fx(p['cap'][0]), y=fy(p['cap'][1]), showarrow=False,
                            font=dict(family=FONT, size=25.5, color='black'),
                            xanchor='center', yanchor='middle'))

layout['shapes'] = shapes
layout['annotations'] = annotations
fig.update_layout(**layout)
fig.write_html('out.html')
